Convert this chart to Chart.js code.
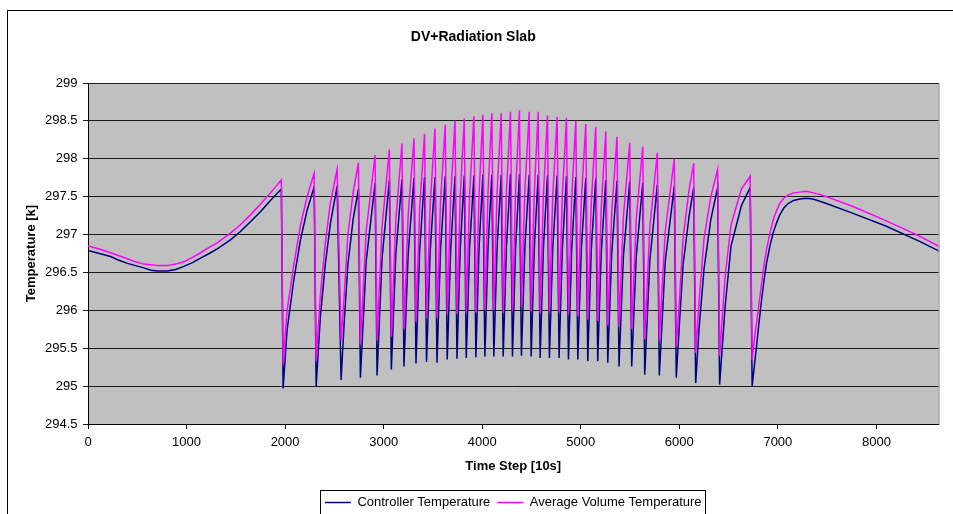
<!DOCTYPE html>
<html><head><meta charset="utf-8">
<script src="https://cdn.jsdelivr.net/npm/chart.js@4.4.0/dist/chart.umd.min.js"></script>
<style>html,body{margin:0;padding:0;background:#fff}#wrap{width:953px;height:514px;position:relative}</style>
</head><body><div id="wrap"><canvas id="c"></canvas></div>
<script>
// Time step [10s]
const timeSteps = [
  0, 115, 230, 315, 399, 483, 567, 640, 703, 805, 890, 973, 1060, 1142, 1230, 1311, 1446, 1547, 1648, 1750, 1851, 1962,
  1980, 2020, 2088, 2156, 2223, 2295,
  2315, 2358, 2409, 2460, 2528,
  2568, 2600, 2637, 2690, 2744,
  2764, 2823, 2913,
  2933, 2984, 3058,
  3078, 3123, 3186,
  3206, 3249, 3308,
  3328, 3365, 3415,
  3435, 3472, 3521,
  3541, 3577, 3625,
  3645, 3680, 3724,
  3744, 3777, 3818,
  3838, 3872, 3916,
  3936, 3968, 4007,
  4027, 4059, 4098,
  4118, 4151, 4193,
  4213, 4246, 4287,
  4307, 4339, 4378,
  4398, 4433, 4477,
  4497, 4529, 4568,
  4588, 4621, 4662,
  4682, 4716, 4760,
  4780, 4813, 4855,
  4875, 4908, 4950,
  4970, 5005, 5051,
  5071, 5106, 5152,
  5172, 5208, 5254,
  5274, 5314, 5368,
  5388, 5433, 5497,
  5517, 5563, 5629,
  5649, 5701, 5777,
  5797, 5857, 5949,
  5969, 6000, 6038, 6100, 6146,
  6166, 6200, 6251, 6320, 6389,
  6409, 6465, 6525, 6630, 6719,
  6739, 6760, 6784, 6810, 6835, 6860, 6885, 6918, 6952, 6985, 7020, 7060, 7104, 7160, 7223, 7290, 7357, 7425, 7493,
  7763, 8101, 8438, 8640
];
const controllerTemp = [
  296.79, 296.75, 296.71, 296.66, 296.62, 296.59, 296.56, 296.53, 296.52, 296.52, 296.54, 296.58, 296.63, 296.69, 296.75, 296.81, 296.93, 297.04, 297.17, 297.30, 297.45, 297.60,
  294.97, 295.74, 296.40, 296.93, 297.32, 297.63,
  295.00, 295.92, 296.62, 297.15, 297.64,
  295.08, 295.85, 296.60, 297.20, 297.60,
  295.11, 296.65, 297.68,
  295.14, 296.69, 297.72,
  295.22, 296.73, 297.73,
  295.26, 296.75, 297.75,
  295.30, 296.78, 297.76,
  295.32, 296.78, 297.76,
  295.31, 296.79, 297.77,
  295.35, 296.80, 297.77,
  295.36, 296.81, 297.78,
  295.37, 296.82, 297.78,
  295.38, 296.83, 297.79,
  295.39, 296.83, 297.79,
  295.39, 296.83, 297.79,
  295.39, 296.84, 297.80,
  295.39, 296.84, 297.80,
  295.40, 296.83, 297.79,
  295.39, 296.83, 297.79,
  295.37, 296.82, 297.78,
  295.37, 296.82, 297.78,
  295.37, 296.81, 297.77,
  295.35, 296.80, 297.76,
  295.35, 296.79, 297.75,
  295.33, 296.78, 297.74,
  295.33, 296.76, 297.72,
  295.31, 296.75, 297.71,
  295.26, 296.72, 297.70,
  295.26, 296.71, 297.68,
  295.15, 296.66, 297.66,
  295.14, 296.64, 297.64,
  295.11, 295.80, 296.60, 297.25, 297.62,
  295.04, 295.75, 296.55, 297.20, 297.62,
  295.02, 296.05, 296.85, 297.38, 297.62,
  295.00, 295.25, 295.53, 295.85, 296.14, 296.40, 296.62, 296.84, 297.02, 297.15, 297.26, 297.35, 297.41, 297.45, 297.47, 297.48, 297.47, 297.44, 297.41,
  297.28, 297.11, 296.91, 296.78
];
const averageTemp = [
  296.85, 296.81, 296.76, 296.72, 296.68, 296.64, 296.61, 296.60, 296.59, 296.59, 296.61, 296.64, 296.70, 296.76, 296.83, 296.89, 297.02, 297.13, 297.26, 297.40, 297.55, 297.72,
  295.29, 296.00, 296.60, 297.12, 297.50, 297.81,
  295.33, 296.20, 296.90, 297.42, 297.86,
  295.60, 296.20, 297.00, 297.55, 297.95,
  295.55, 297.05, 298.05,
  295.60, 297.11, 298.12,
  295.65, 297.18, 298.20,
  295.75, 297.26, 298.27,
  295.85, 297.34, 298.33,
  295.90, 297.40, 298.40,
  295.90, 297.43, 298.45,
  295.95, 297.48, 298.50,
  295.95, 297.50, 298.53,
  295.97, 297.52, 298.56,
  295.97, 297.54, 298.58,
  296.00, 297.56, 298.60,
  296.00, 297.56, 298.60,
  295.97, 297.56, 298.62,
  295.99, 297.58, 298.64,
  296.05, 297.59, 298.62,
  295.98, 297.56, 298.62,
  295.96, 297.53, 298.57,
  295.97, 297.52, 298.55,
  295.97, 297.51, 298.54,
  295.95, 297.48, 298.50,
  295.92, 297.44, 298.46,
  295.88, 297.40, 298.42,
  295.86, 297.36, 298.36,
  295.80, 297.29, 298.29,
  295.78, 297.24, 298.21,
  295.75, 297.20, 298.16,
  295.62, 297.10, 298.08,
  295.60, 297.04, 298.00,
  295.52, 296.10, 296.95, 297.60, 297.94,
  295.44, 296.10, 296.95, 297.50, 297.86,
  295.40, 296.45, 297.13, 297.60, 297.77,
  295.35, 295.60, 295.83, 296.10, 296.36, 296.60, 296.80, 297.01, 297.19, 297.31, 297.41, 297.48, 297.52, 297.55, 297.56, 297.57, 297.55, 297.53, 297.50,
  297.37, 297.18, 296.98, 296.84
];
const xTickValues = [0, 1000, 2000, 3000, 4000, 5000, 6000, 7000, 8000];
const yTickValues = [294.5, 295, 295.5, 296, 296.5, 297, 297.5, 298, 298.5, 299];
const seriesNames = ['Controller Temperature', 'Average Volume Temperature'];

Chart.defaults.font.family = "'Liberation Sans', Arial, sans-serif";
Chart.defaults.color = '#000';

const framePlugin = {
  id: 'frame',
  beforeDraw(chart) {
    const {ctx, chartArea: a} = chart;
    ctx.save();
    ctx.fillStyle = '#fff';
    ctx.fillRect(0, 0, chart.width, chart.height);
    ctx.strokeStyle = '#000';
    ctx.lineWidth = 1;
    ctx.strokeRect(7.5, 10.5, chart.width + 20, chart.height + 20);
    ctx.fillStyle = '#c0c0c0';
    ctx.fillRect(a.left, a.top, a.right - a.left, a.bottom - a.top);
    ctx.strokeStyle = '#808080';
    ctx.strokeRect(a.left + 0.5, a.top + 0.5, a.right - a.left, a.bottom - a.top);
    ctx.restore();
  },
  afterLayout(chart) {
    const lg = chart.legend, a = chart.chartArea;
    if (!lg) return;
    const dx = (a.left + a.right) / 2 - (lg.left + lg.right) / 2;
    lg.left += dx; lg.right += dx;
    lg.top += 5; lg.bottom += 5;
  },
  afterDraw(chart) {
    const lg = chart.legend;
    if (!lg || !lg.legendHitBoxes.length) return;
    const hb = lg.legendHitBoxes;
    const last = hb[hb.length - 1];
    const l = Math.round(hb[0].left - 5) + 0.5;
    const r = Math.round(last.left + last.width + 3) + 0.5;
    const t = Math.round(hb[0].top - 6) + 0.5;
    const {ctx} = chart;
    ctx.save();
    ctx.strokeStyle = '#000';
    ctx.lineWidth = 1;
    ctx.strokeRect(l, t, r - l, 60);
    ctx.restore();
  }
};

new Chart(document.getElementById('c'), {
  type: 'line',
  data: {
    datasets: [
      {
        label: seriesNames[0],
        data: timeSteps.map((x, i) => ({x, y: controllerTemp[i]})),
        borderColor: '#000080', backgroundColor: '#000080',
        borderWidth: 1.5, pointRadius: 0, tension: 0, order: 1
      },
      {
        label: seriesNames[1],
        data: timeSteps.map((x, i) => ({x, y: averageTemp[i]})),
        borderColor: '#ff00ff', backgroundColor: '#ff00ff',
        borderWidth: 1.5, pointRadius: 0, tension: 0, order: 0
      }
    ]
  },
  options: {
    responsive: true, maintainAspectRatio: false, animation: false,
    layout: {padding: {left: 8, right: 14.5, top: 0, bottom: 0}},
    plugins: {
      tooltip: {enabled: false},
      title: {
        display: true, text: 'DV+Radiation Slab', color: '#000',
        font: {size: 14, weight: 'bold'}, padding: {top: 29, bottom: 37.2}
      },
      legend: {
        position: 'bottom',
        labels: {
          usePointStyle: true, pointStyle: 'line', pointStyleWidth: 26,
          font: {size: 13}, padding: 7, color: '#000',
          sort: (a, b) => a.datasetIndex - b.datasetIndex
        }
      }
    },
    scales: {
      x: {
        type: 'linear', min: 0, max: 8630,
        afterBuildTicks: s => { s.ticks = xTickValues.map(v => ({value: v})); },
        ticks: {callback: v => String(v), font: {size: 13}, padding: 5.2, maxRotation: 0, autoSkip: false, color: '#000'},
        grid: {drawOnChartArea: false, tickLength: 5, color: '#000'},
        border: {color: '#000'},
        title: {display: true, text: 'Time Step [10s]', color: '#000', font: {size: 13, weight: 'bold'}, padding: {top: 0, bottom: 10.2}},
        afterFit: s => { s.height = 60; }
      },
      y: {
        type: 'linear', min: 294.5, max: 299,
        afterBuildTicks: s => { s.ticks = yTickValues.map(v => ({value: v})); },
        ticks: {callback: v => String(v), font: {size: 13}, padding: 5.5, color: '#000'},
        grid: {color: '#1a1a1a', tickLength: 5},
        border: {color: '#000'},
        title: {display: true, text: 'Temperature [k]', color: '#000', font: {size: 13, weight: 'bold'}, padding: {top: 15.2, bottom: 0}},
        afterFit: s => { s.width = 80; }
      }
    }
  },
  plugins: [framePlugin]
});
</script>
</body></html>
